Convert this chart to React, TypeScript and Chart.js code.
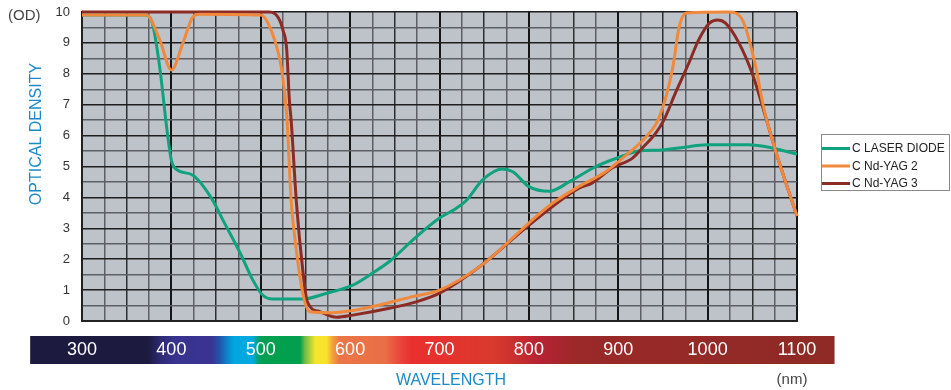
import React, { useEffect, useRef } from "react";
import { Chart, registerables } from "chart.js";
Chart.register(...registerables);

const seriesLabels = ["C LASER DIODE", "C Nd-YAG 2", "C Nd-YAG 3"];
const seriesColors = ["#10a27e", "#f0893c", "#8c2b24"];

const diodeNm = [300, 370, 378, 387, 395, 400, 406, 424, 445, 458, 477, 491, 502, 513, 547, 574, 603, 625, 645, 670, 700, 719, 730, 748, 770, 782, 800, 823, 845, 875, 901, 923, 946, 968, 1000, 1046, 1072, 1100];
const diodeOd = [9.9, 9.9, 9.7, 8.2, 6.2, 5.2, 4.9, 4.72, 3.97, 3.25, 2.2, 1.33, 0.84, 0.71, 0.71, 0.9, 1.16, 1.55, 1.95, 2.62, 3.33, 3.65, 3.9, 4.56, 4.92, 4.83, 4.35, 4.2, 4.5, 5.0, 5.3, 5.5, 5.53, 5.6, 5.7, 5.7, 5.6, 5.4];

const yag2Nm = [300, 372, 387, 400, 413, 424, 432, 500, 513, 523, 529, 534, 538, 547, 555, 580, 607, 633, 670, 700, 745, 775, 800, 826, 856, 886, 909, 931, 946, 961, 968, 976, 1024, 1039, 1054, 1062, 1069, 1076, 1100];
const yag2Od = [9.9, 9.9, 9.1, 8.12, 9.0, 9.84, 9.93, 9.9, 9.3, 8.2, 6.7, 3.9, 2.73, 0.9, 0.3, 0.27, 0.36, 0.52, 0.79, 1.0, 1.76, 2.5, 3.17, 3.8, 4.35, 4.83, 5.37, 5.96, 6.6, 8.2, 9.5, 9.97, 10, 9.74, 8.2, 7.0, 6.2, 5.5, 3.4];

const yag3Nm = [300, 510, 520, 525, 529, 532, 534, 540, 547, 552, 566, 585, 603, 644, 674, 700, 745, 800, 856, 871, 893, 916, 927, 942, 951, 964, 979, 990, 1002, 1011, 1020, 1035, 1050, 1065, 1076, 1100];
const yag3Od = [10, 10, 9.8, 9.4, 8.8, 7.15, 6.5, 3.8, 1.65, 0.63, 0.3, 0.12, 0.19, 0.41, 0.62, 0.9, 1.76, 3.1, 4.3, 4.47, 4.95, 5.27, 5.6, 6.08, 6.5, 7.38, 8.35, 9.1, 9.64, 9.74, 9.64, 9.0, 8.0, 6.6, 5.5, 3.4];

const xMin = 300;
const xMax = 1100;
const yMin = 0;
const yMax = 10;

// spectrum band colour stops (wavelength in nm, colour)
const spectrumNm = [242, 374, 389, 404, 445, 454, 463, 470, 491, 498, 503, 544, 549, 556, 561, 574, 580, 588, 639, 658, 669, 706, 761, 812, 856, 1142];
const spectrumColors = ["#1d1a40", "#1d1a40", "#2f2b78", "#38338f", "#3a3392", "#2255aa", "#0b86cc", "#00a6e0", "#00a9e0", "#00a063", "#00a050", "#00a04e", "#6ab943", "#b9d33a", "#f6e52a", "#f7e32a", "#f4a33a", "#eb7646", "#e96f46", "#e9413a", "#e8302f", "#e5322e", "#d83a2c", "#b72232", "#9a2928", "#8e2a25"];

const FONT = "'Liberation Sans', Arial, sans-serif";

function toPoints(xs: number[], ys: number[]) {
  return xs.map((x, i) => ({ x, y: ys[i] }));
}

const decorPlugin = {
  id: "decor",
  beforeDraw(chart: any) {
    const { ctx, chartArea: a, scales } = chart;
    ctx.save();
    ctx.fillStyle = "#bec3ca";
    ctx.fillRect(a.left, a.top, a.right - a.left, a.bottom - a.top);
    const xs = scales.x;
    const x0 = xs.getPixelForValue(spectrumNm[0]);
    const x1 = xs.getPixelForValue(spectrumNm[spectrumNm.length - 1]);
    const g = ctx.createLinearGradient(x0, 0, x1, 0);
    spectrumNm.forEach((nm, i) => {
      const p = (xs.getPixelForValue(nm) - x0) / (x1 - x0);
      g.addColorStop(Math.min(1, Math.max(0, p)), spectrumColors[i]);
    });
    ctx.fillStyle = g;
    ctx.fillRect(x0, a.bottom + 15, x1 - x0, 28);
    ctx.restore();
  },
  afterDraw(chart: any) {
    const { ctx } = chart;
    ctx.save();
    // axis titles
    ctx.fillStyle = "#444";
    ctx.font = `15px ${FONT}`;
    ctx.textAlign = "left";
    ctx.textBaseline = "middle";
    ctx.fillText("(OD)", 8, 16);
    ctx.fillStyle = "#1b8ac8";
    ctx.font = `16px ${FONT}`;
    ctx.save();
    ctx.translate(37, 134);
    ctx.rotate(-Math.PI / 2);
    ctx.textAlign = "center";
    ctx.fillText("OPTICAL DENSITY", 0, 0);
    ctx.restore();
    ctx.textAlign = "center";
    ctx.fillText("WAVELENGTH", 451, 381);
    ctx.fillStyle = "#444";
    ctx.font = `15px ${FONT}`;
    ctx.fillText("(nm)", 792, 380);
    // legend
    const lx = 821.5, ly = 134.5, lw = 128, lh = 56;
    ctx.strokeStyle = "#8a8a8a";
    ctx.lineWidth = 1;
    ctx.strokeRect(lx, ly, lw, lh);
    ctx.font = `12px ${FONT}`;
    ctx.textAlign = "left";
    chart.data.datasets.forEach((ds: any, i: number) => {
      const y = 148.5 + i * 17.5;
      ctx.strokeStyle = ds.borderColor;
      ctx.lineWidth = 3;
      ctx.beginPath();
      ctx.moveTo(822, y);
      ctx.lineTo(850, y);
      ctx.stroke();
      ctx.fillStyle = "#222";
      ctx.fillText(ds.label, 852, y + 0.5);
    });
    ctx.restore();
  },
};

export default function App() {
  const ref = useRef<HTMLCanvasElement | null>(null);
  useEffect(() => {
    if (!ref.current) return;
    const chart = new Chart(ref.current, {
      type: "line",
      data: {
        datasets: [
          { label: seriesLabels[0], data: toPoints(diodeNm, diodeOd), borderColor: seriesColors[0], order: 3 },
          { label: seriesLabels[1], data: toPoints(yag2Nm, yag2Od), borderColor: seriesColors[1], order: 1 },
          { label: seriesLabels[2], data: toPoints(yag3Nm, yag3Od), borderColor: seriesColors[2], order: 2 },
        ].map((d) => ({
          ...d,
          borderWidth: 3,
          pointRadius: 0,
          fill: false,
          cubicInterpolationMode: "monotone" as const,
          clip: false as any,
        })),
      },
      options: {
        animation: false,
        responsive: false,
        maintainAspectRatio: false,
        layout: { padding: { left: 0, right: 154, top: 12, bottom: 0 } },
        plugins: { legend: { display: false }, tooltip: { enabled: false } },
        scales: {
          x: {
            type: "linear",
            min: xMin,
            max: xMax,
            afterFit: (s: any) => { s.height = 69; },
            grid: {
              drawTicks: false,
              color: (c: any) => {
                const v = c.tick.value;
                if (v % 100 === 0) return "#151515";
                if (v % 50 === 0) return "#2e2e2e";
                return "#5c5f63";
              },
              lineWidth: (c: any) => (c.tick.value % 100 === 0 ? 2 : 1.5),
            },
            border: { display: true, color: "#222", width: 2 },
            ticks: {
              stepSize: 25,
              autoSkip: false,
              maxRotation: 0,
              padding: 18,
              color: "#ffffff",
              font: { size: 18, family: FONT },
              callback: (v: any) => (Number(v) % 100 === 0 ? String(v) : ""),
            },
          },
          y: {
            min: yMin,
            max: yMax,
            afterFit: (s: any) => { s.width = 82; s.paddingTop = 0; s.paddingBottom = 0; },
            grid: {
              drawTicks: false,
              color: (c: any) => (Number.isInteger(c.tick.value) ? "#1e1e1e" : "#5c5f63"),
              lineWidth: 1.5,
            },
            border: { display: true, color: "#222", width: 2 },
            ticks: {
              stepSize: 0.5,
              autoSkip: false,
              padding: 12,
              color: "#333",
              font: { size: 13, family: FONT },
              callback: (v: any) => (Number.isInteger(Number(v)) ? String(v) : ""),
            },
          },
        },
      },
      plugins: [decorPlugin],
    });
    return () => chart.destroy();
  }, []);
  return (
    <div style={{ position: "fixed", left: 0, top: 0, width: 951, height: 390, background: "#fff" }}>
      <canvas ref={ref} width={951} height={390} />
    </div>
  );
}
